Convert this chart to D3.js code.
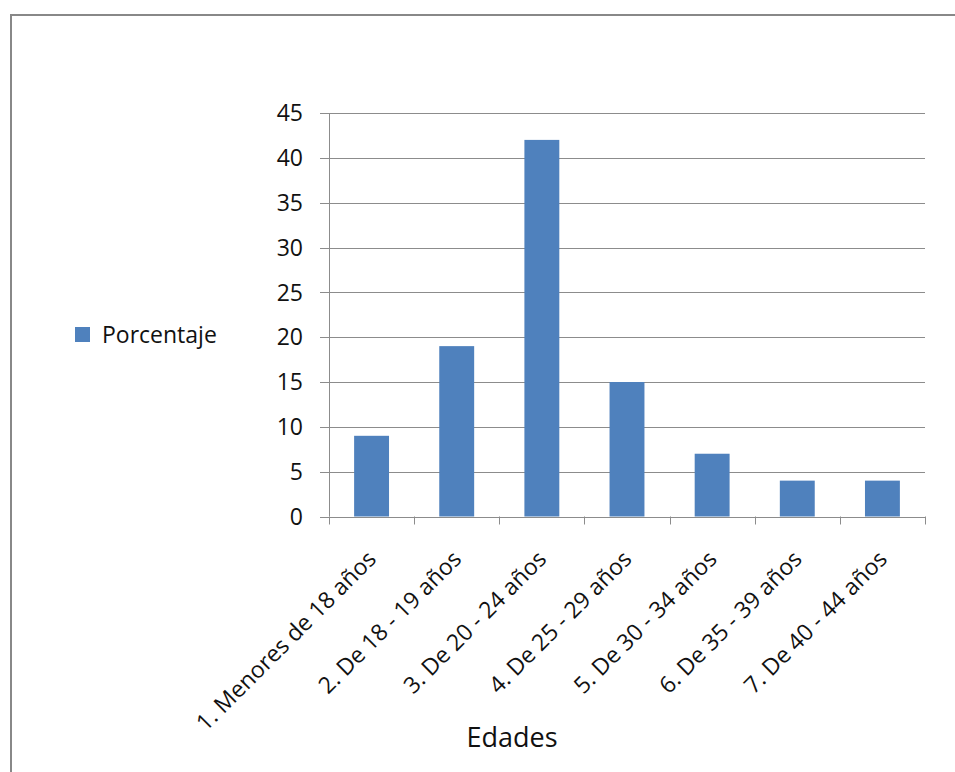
<!DOCTYPE html>
<html>
<head>
<meta charset="utf-8">
<script src="https://cdn.jsdelivr.net/npm/d3@7"></script>
<style>
  body { margin: 0; background: #fff; }
  text { font-family: "Open Sans", "Noto Sans", sans-serif; fill: #111; }
</style>
</head>
<body>
<svg id="chart" width="955" height="772"></svg>
<script>
'use strict'

const categories = ["1. Menores de 18 años", "2. De 18 - 19 años", "3. De 20 - 24 años",
  "4. De 25 - 29 años", "5. De 30 - 34 años", "6. De 35 - 39 años", "7. De 40 - 44 años"]
const porcentaje = [9, 19, 42, 15, 7, 4, 4]
const yTicks = [0, 5, 10, 15, 20, 25, 30, 35, 40, 45]
const seriesName = "Porcentaje"
const axisTitle = "Edades"

const svg = d3.select("#chart")
const gridColor = "#8c8c8c"
const barColor = "#4f81bd"

// outer frame
svg.append("rect")
  .attr("x", 11).attr("y", 15)
  .attr("width", 960).attr("height", 780)
  .attr("fill", "none")
  .attr("stroke", "#888")
  .attr("stroke-width", 2)

const plotLeft = 329, plotRight = 925, plotTop = 113, plotBottom = 516.5

const x = d3.scaleBand()
  .domain(categories)
  .range([plotLeft, plotRight])
  .paddingInner(0.59)
  .paddingOuter(0.295)

const y = d3.scaleLinear().domain([0, 45]).range([plotBottom, plotTop])

// gridlines
svg.append("g")
  .selectAll("line")
  .data(yTicks)
  .join("line")
    .attr("x1", plotLeft - 9).attr("x2", plotRight)
    .attr("y1", d => Math.round(y(d)) + 0.5)
    .attr("y2", d => Math.round(y(d)) + 0.5)
    .attr("stroke", gridColor)
    .attr("stroke-width", 1)

// y axis line
svg.append("line")
  .attr("x1", plotLeft + 0.5).attr("x2", plotLeft + 0.5)
  .attr("y1", plotTop).attr("y2", plotBottom)
  .attr("stroke", gridColor)

// y tick labels
svg.append("g")
  .selectAll("text")
  .data(yTicks)
  .join("text")
    .attr("x", plotLeft - 26)
    .attr("y", d => y(d))
    .attr("dy", "0.36em")
    .attr("text-anchor", "end")
    .style("font-size", "23px")
    .text(d => d)

// bars
svg.append("g")
  .selectAll("rect")
  .data(porcentaje)
  .join("rect")
    .attr("x", (d, i) => x(categories[i]))
    .attr("y", d => y(d))
    .attr("width", x.bandwidth())
    .attr("height", d => y(0) - y(d))
    .attr("fill", barColor)

// x axis category ticks
const step = x.step()
const bounds = d3.range(categories.length + 1).map(i => plotLeft + i * step)
svg.append("g")
  .selectAll("line")
  .data(bounds)
  .join("line")
    .attr("x1", d => Math.round(d) + 0.5).attr("x2", d => Math.round(d) + 0.5)
    .attr("y1", plotBottom).attr("y2", plotBottom + 8)
    .attr("stroke", gridColor)

// rotated category labels
svg.append("g")
  .selectAll("text")
  .data(categories)
  .join("text")
    .attr("transform", d => "translate(" + (x(d) + x.bandwidth() / 2 + 6) + "," + (plotBottom + 44) + ") rotate(-45)")
    .attr("text-anchor", "end")
    .style("font-size", "23px")
    .text(d => d)

// axis title
svg.append("text")
  .attr("x", 512).attr("y", 747)
  .attr("text-anchor", "middle")
  .style("font-size", "27px")
  .text(axisTitle)

// legend
svg.append("rect")
  .attr("x", 75).attr("y", 327)
  .attr("width", 15).attr("height", 15)
  .attr("fill", barColor)
svg.append("text")
  .attr("x", 102).attr("y", 343)
  .style("font-size", "23px")
  .text(seriesName)
</script>
</body>
</html>
